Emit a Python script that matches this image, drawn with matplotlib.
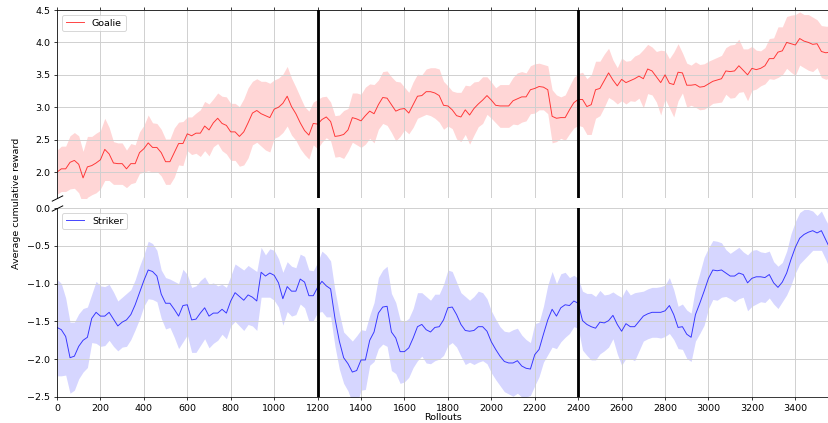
import matplotlib
matplotlib.use('Agg')
import matplotlib.pyplot as plt
import numpy as np

# rollouts sampled every 20
rollouts = np.arange(0, 3561, 20)

goalie_mean = [
    2.00, 2.05, 2.05, 2.15, 2.18, 2.12, 1.91, 2.08, 2.10, 2.14,
    2.19, 2.35, 2.28, 2.14, 2.13, 2.13, 2.05, 2.13, 2.13, 2.30,
    2.36, 2.45, 2.38, 2.38, 2.30, 2.16, 2.16, 2.30, 2.44, 2.44,
    2.59, 2.56, 2.60, 2.60, 2.71, 2.65, 2.76, 2.83, 2.75, 2.72,
    2.62, 2.62, 2.55, 2.62, 2.76, 2.91, 2.95, 2.90, 2.87, 2.84,
    2.97, 3.00, 3.06, 3.17, 3.01, 2.90, 2.76, 2.64, 2.57, 2.75,
    2.74, 2.81, 2.85, 2.78, 2.55, 2.56, 2.58, 2.65, 2.84, 2.82,
    2.79, 2.87, 2.94, 2.90, 3.04, 3.15, 3.14, 3.04, 2.94, 2.97,
    2.98, 2.91, 3.04, 3.17, 3.18, 3.24, 3.24, 3.22, 3.18, 3.03,
    3.02, 2.96, 2.87, 2.85, 2.96, 2.88, 2.98, 3.05, 3.11, 3.18,
    3.11, 3.03, 3.02, 3.02, 3.02, 3.10, 3.13, 3.16, 3.16, 3.27,
    3.29, 3.32, 3.31, 3.27, 2.86, 2.83, 2.84, 2.84, 2.96, 3.07,
    3.12, 3.12, 3.01, 3.04, 3.27, 3.29, 3.41, 3.53, 3.42, 3.33,
    3.43, 3.38, 3.41, 3.44, 3.48, 3.44, 3.59, 3.56, 3.47, 3.38,
    3.50, 3.37, 3.35, 3.54, 3.53, 3.34, 3.34, 3.35, 3.31, 3.32,
    3.36, 3.40, 3.42, 3.44, 3.56, 3.55, 3.56, 3.64, 3.57, 3.50,
    3.60, 3.58, 3.60, 3.64, 3.75, 3.75, 3.85, 3.87, 4.00, 3.98,
    3.96, 4.06, 4.02, 4.00, 3.97, 3.98, 3.86, 3.84, 3.85,
]
goalie_std = [
    0.34, 0.35, 0.35, 0.41, 0.43, 0.44, 0.41, 0.47, 0.45, 0.46,
    0.45, 0.48, 0.41, 0.33, 0.32, 0.32, 0.29, 0.31, 0.29, 0.32,
    0.36, 0.43, 0.38, 0.37, 0.36, 0.35, 0.35, 0.38, 0.33, 0.34,
    0.26, 0.29, 0.31, 0.36, 0.38, 0.40, 0.37, 0.39, 0.42, 0.44,
    0.44, 0.44, 0.46, 0.51, 0.54, 0.49, 0.49, 0.50, 0.53, 0.53,
    0.45, 0.45, 0.45, 0.46, 0.44, 0.41, 0.40, 0.37, 0.37, 0.33,
    0.38, 0.35, 0.32, 0.30, 0.32, 0.32, 0.37, 0.33, 0.38, 0.40,
    0.41, 0.44, 0.42, 0.45, 0.38, 0.40, 0.42, 0.43, 0.46, 0.42,
    0.33, 0.32, 0.35, 0.34, 0.32, 0.35, 0.37, 0.39, 0.41, 0.37,
    0.31, 0.29, 0.36, 0.38, 0.38, 0.45, 0.41, 0.35, 0.36, 0.29,
    0.28, 0.27, 0.33, 0.33, 0.33, 0.36, 0.40, 0.39, 0.37, 0.37,
    0.38, 0.36, 0.35, 0.37, 0.41, 0.36, 0.32, 0.35, 0.37, 0.39,
    0.40, 0.42, 0.43, 0.46, 0.44, 0.42, 0.41, 0.38, 0.31, 0.28,
    0.33, 0.33, 0.31, 0.35, 0.34, 0.45, 0.38, 0.37, 0.39, 0.50,
    0.37, 0.38, 0.50, 0.44, 0.31, 0.34, 0.31, 0.35, 0.35, 0.35,
    0.35, 0.34, 0.35, 0.36, 0.36, 0.41, 0.41, 0.41, 0.33, 0.40,
    0.34, 0.30, 0.27, 0.28, 0.31, 0.32, 0.39, 0.37, 0.40, 0.44,
    0.47, 0.41, 0.41, 0.43, 0.42, 0.37, 0.40, 0.41, 0.40,
]

striker_mean = [
    -1.58, -1.61, -1.70, -1.98, -1.96, -1.83, -1.75, -1.71, -1.46, -1.38,
    -1.43, -1.43, -1.38, -1.47, -1.56, -1.51, -1.48, -1.41, -1.28, -1.12,
    -0.96, -0.82, -0.84, -0.90, -1.14, -1.26, -1.26, -1.34, -1.43, -1.29,
    -1.28, -1.48, -1.47, -1.39, -1.32, -1.43, -1.39, -1.39, -1.34, -1.39,
    -1.23, -1.12, -1.17, -1.22, -1.15, -1.18, -1.23, -0.85, -0.90, -0.86,
    -0.89, -0.99, -1.20, -1.04, -1.10, -1.10, -0.94, -0.98, -1.16, -1.16,
    -1.05, -0.97, -1.03, -1.07, -1.46, -1.76, -1.98, -2.06, -2.17, -2.15,
    -2.01, -2.01, -1.75, -1.64, -1.39, -1.31, -1.30, -1.64, -1.72, -1.90,
    -1.90, -1.85, -1.72, -1.57, -1.54, -1.61, -1.64, -1.58, -1.57, -1.48,
    -1.32, -1.31, -1.41, -1.54, -1.62, -1.63, -1.62, -1.57, -1.57, -1.63,
    -1.77, -1.87, -1.96, -2.03, -2.05, -2.05, -2.02, -2.09, -2.12, -2.13,
    -1.94, -1.87, -1.67, -1.48, -1.34, -1.43, -1.32, -1.28, -1.29, -1.23,
    -1.26, -1.49, -1.54, -1.57, -1.59, -1.51, -1.52, -1.49, -1.42, -1.54,
    -1.63, -1.53, -1.57, -1.57, -1.50, -1.43, -1.40, -1.38, -1.38, -1.38,
    -1.36, -1.29, -1.41, -1.58, -1.57, -1.67, -1.71, -1.41, -1.26, -1.10,
    -0.93, -0.82, -0.83, -0.82, -0.86, -0.90, -0.90, -0.86, -0.88, -0.99,
    -0.93, -0.91, -0.91, -0.92, -0.88, -0.99, -1.05, -0.98, -0.86, -0.68,
    -0.52, -0.40, -0.35, -0.32, -0.30, -0.33, -0.30, -0.42, -0.54,
]
striker_std = [
    0.64, 0.61, 0.51, 0.47, 0.45, 0.43, 0.42, 0.40, 0.32, 0.41,
    0.40, 0.39, 0.37, 0.36, 0.33, 0.33, 0.35, 0.33, 0.33, 0.35,
    0.34, 0.38, 0.37, 0.34, 0.32, 0.34, 0.32, 0.37, 0.43, 0.48,
    0.40, 0.43, 0.44, 0.43, 0.41, 0.42, 0.40, 0.36, 0.33, 0.34,
    0.33, 0.38, 0.39, 0.40, 0.39, 0.38, 0.39, 0.33, 0.28, 0.32,
    0.33, 0.32, 0.35, 0.33, 0.33, 0.31, 0.33, 0.34, 0.34, 0.33,
    0.33, 0.40, 0.41, 0.37, 0.37, 0.37, 0.34, 0.36, 0.41, 0.46,
    0.40, 0.39, 0.33, 0.39, 0.47, 0.49, 0.53, 0.51, 0.47, 0.42,
    0.40, 0.39, 0.39, 0.45, 0.42, 0.44, 0.42, 0.44, 0.43, 0.47,
    0.50, 0.47, 0.43, 0.42, 0.45, 0.41, 0.45, 0.47, 0.45, 0.43,
    0.41, 0.40, 0.39, 0.40, 0.41, 0.44, 0.43, 0.41, 0.38, 0.35,
    0.41, 0.36, 0.37, 0.46, 0.50, 0.43, 0.45, 0.43, 0.37, 0.34,
    0.33, 0.39, 0.41, 0.44, 0.42, 0.42, 0.37, 0.35, 0.31, 0.39,
    0.45, 0.46, 0.42, 0.45, 0.39, 0.33, 0.33, 0.33, 0.33, 0.34,
    0.34, 0.37, 0.33, 0.28, 0.30, 0.32, 0.32, 0.35, 0.40, 0.45,
    0.40, 0.39, 0.39, 0.36, 0.31, 0.30, 0.34, 0.34, 0.30, 0.37,
    0.37, 0.36, 0.33, 0.33, 0.31, 0.28, 0.28, 0.26, 0.29, 0.34,
    0.34, 0.34, 0.33, 0.30, 0.26, 0.23, 0.26, 0.26, 0.28,
]

# switch points between training phases
phase_marks = [1200, 2400]

goalie_mean = np.array(goalie_mean)
goalie_std = np.array(goalie_std)
striker_mean = np.array(striker_mean)
striker_std = np.array(striker_std)

W, H = 828, 423
fig = plt.figure(figsize=(W / 68, H / 68), dpi=68)
ax1 = fig.add_axes([57 / W, 1 - 198 / H, 1.002 - 57 / W, 188 / H])
ax2 = fig.add_axes([57 / W, 1 - 397 / H, 1.002 - 57 / W, 189 / H], sharex=ax1)

# goalie on top
ax1.plot(rollouts, goalie_mean, color='red', alpha=0.75, lw=1, label='Goalie')
ax1.fill_between(rollouts, goalie_mean - goalie_std, goalie_mean + goalie_std,
                 color='red', alpha=0.16, lw=0)
# striker below
ax2.plot(rollouts, striker_mean, color='blue', alpha=0.75, lw=1, label='Striker')
ax2.fill_between(rollouts, striker_mean - striker_std, striker_mean + striker_std,
                 color='blue', alpha=0.16, lw=0)

for ax in (ax1, ax2):
    for m in phase_marks:
        ax.axvline(m, color='black', lw=3)
    ax.grid(True, color='#cfcfcf', lw=1)
    ax.legend(loc='upper left')

ax1.set_ylim(1.6, 4.5)
ax2.set_ylim(-2.5, 0.0)
ax1.set_yticks(np.arange(2.0, 4.51, 0.5))
ax2.set_yticks(np.arange(-2.5, 0.01, 0.5))
ax2.set_xlim(0, 3558)
ax2.set_xticks(np.arange(0, 3401, 200))

# broken axis look
ax1.spines['bottom'].set_visible(False)
ax2.spines['top'].set_visible(False)
ax1.xaxis.tick_top()
ax1.tick_params(labeltop=False)
ax2.xaxis.tick_bottom()

d = .5
kw = dict(marker=[(-1, -d), (1, d)], markersize=12, linestyle='none',
          color='k', mec='k', mew=1, clip_on=False)
ax1.plot([0], [0], transform=ax1.transAxes, **kw)
ax2.plot([0], [1], transform=ax2.transAxes, **kw)

ax2.set_xlabel('Rollouts', labelpad=0)
fig.text(17 / W, 1 - 203.5 / H, 'Average cumulative reward', rotation=90,
         ha='center', va='center')

fig.savefig('out.png', dpi=68)
